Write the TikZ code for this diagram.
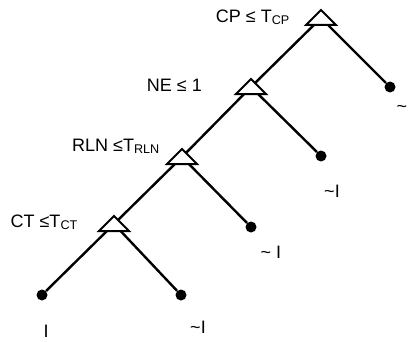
\documentclass[tikz,border=0pt]{standalone}
\usepackage{fontspec}
\setmainfont{Liberation Sans}
\begin{document}
\begin{tikzpicture}[x=1pt,y=1pt,
    font=\fontsize{18}{21}\selectfont,
    edge/.style={line width=2.4pt},
    leaf/.style={circle,fill=black,inner sep=0pt,minimum size=11pt},
    split/.style={draw,line width=2pt,fill=white,line join=miter},
    cond/.style={anchor=base east,inner sep=0pt},
    res/.style={anchor=base,inner sep=0pt}]
  \useasboundingbox (0,0) rectangle (410,341);
  \draw
    (321,323) coordinate (t1)
    (251,254) coordinate (t2)
    (182,184) coordinate (t3)
    (114,117) coordinate (t4);
  \draw
    (390,254) node[leaf] (d1){}
    (321,185) node[leaf] (d2){}
    (251,114) node[leaf] (d3){}
    (42,46) node[leaf] (d4){}
    (181,46) node[leaf] (d5){};
  \begin{scope}[edge]
    \draw (t1) to (t2);
    \draw (t1) to (d1);
    \draw (t2) to (t3);
    \draw (t2) to (d2);
    \draw (t3) to (t4);
    \draw (t3) to (d3);
    \draw (t4) to (d4);
    \draw (t4) to (d5);
  \end{scope}
  \foreach \t in {t1,t2,t3,t4}
    \draw[split,shift={(\t)}] (-15,-7) -- (15,-7) -- (0,8) -- cycle;
  % split conditions
  \node[cond] (c1) at (290,319) {CP ≤ T\textsubscript{CP}};
  \node[cond] (c2) at (202,250) {NE ≤ 1};
  \node[cond] (c3) at (160,190) {RLN ≤T\textsubscript{RLN}};
  \node[cond] (c4) at (78,114) {CT ≤T\textsubscript{CT}};
  % leaf classes
  \node (r1) at (402,232) {\textasciitilde};
  \node[res] (r2) at (332,144) {\textasciitilde I};
  \node[res] (r3) at (271,83) {\textasciitilde{} I};
  \node[res] (r4) at (46,4) {I};
  \node[res] (r5) at (198,8) {\textasciitilde I};
\end{tikzpicture}
\end{document}
